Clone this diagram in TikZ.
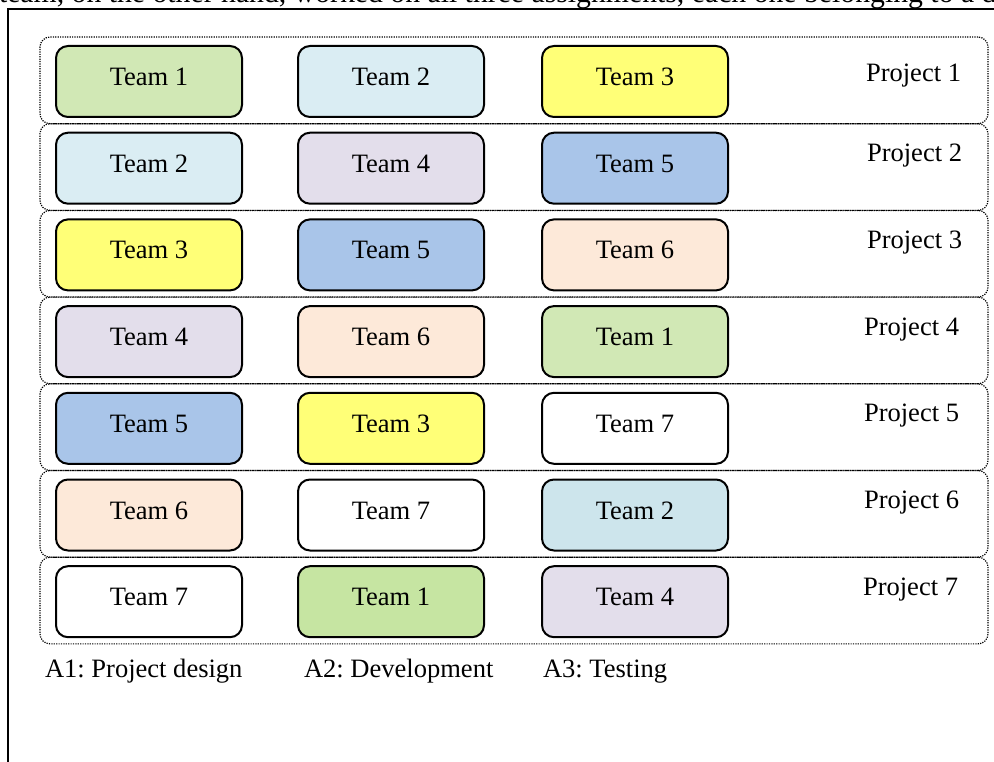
\documentclass[tikz,border=0pt]{standalone}
\usepackage{fontspec}
\setmainfont{Liberation Serif}
\frenchspacing
\definecolor{cgreen}{HTML}{D1E8B5}
\definecolor{cgreentwo}{HTML}{C6E5A2}
\definecolor{clight}{HTML}{DAEDF3}
\definecolor{clighttwo}{HTML}{CDE5EC}
\definecolor{cyellow}{HTML}{FFFF77}
\definecolor{clav}{HTML}{E3DEEB}
\definecolor{cblue}{HTML}{A9C5E9}
\definecolor{cpeach}{HTML}{FDE9D9}
\begin{document}
\frenchspacing
\begin{tikzpicture}[x=0.75pt,y=-0.75pt,
  every node/.style={font=\fontsize{19.9pt}{24pt}\selectfont, inner sep=0pt, outer sep=0pt},
  frameline/.style={draw=black, line width=1.4pt},
  rowbox/.style={draw=black, line width=0.9pt, dash pattern=on 0.9pt off 0.9pt,
    rounded corners=7.5pt, minimum width=711pt, minimum height=65pt},
  teambox/.style={draw=black, line width=1.5pt, rounded corners=9pt,
    minimum width=139.5pt, minimum height=53.25pt},
  teamtxt/.style={anchor=base},
  projtxt/.style={anchor=base west},
  legendtxt/.style={anchor=base west}]
\useasboundingbox (0,0) rectangle (994,762);
% cut-off running text at the top
\begin{scope}
\clip (0,0) rectangle (994,9);
\node[anchor=base west, font=\fontsize{22.3pt}{26pt}\selectfont] (toptext) at (-1,3) {team, on the other hand, worked on all three assignments, each one belonging to a different project};
\end{scope}
% frame
\coordinate (fa) at (994,9);
\coordinate (fb) at (8,9);
\coordinate (fc) at (8,762);
\draw[frameline] (fa) -- (fb) -- (fc);
% project rows
\foreach \r/\px in {1/866,2/867,3/867,4/864,5/864,6/864,7/863}{
  \pgfmathsetmacro\rtop{37+86.7*(\r-1)}
  \pgfmathsetmacro\pby{\r==1 ? \rtop+45 : \rtop+38}
  \node[rowbox] (row\r) at (514,\rtop+43.35) {};
  \node[projtxt] (proj\r) at (\px,\pby) {Project \r};
}
% team boxes
\foreach \r/\c/\col/\t in {
  1/1/cgreen/1, 1/2/clight/2, 1/3/cyellow/3,
  2/1/clight/2, 2/2/clav/4, 2/3/cblue/5,
  3/1/cyellow/3, 3/2/cblue/5, 3/3/cpeach/6,
  4/1/clav/4, 4/2/cpeach/6, 4/3/cgreen/1,
  5/1/cblue/5, 5/2/cyellow/3, 5/3/white/7,
  6/1/cpeach/6, 6/2/white/7, 6/3/clighttwo/2,
  7/1/white/7, 7/2/cgreentwo/1, 7/3/clav/4}{
  \pgfmathsetmacro\rtop{37+86.7*(\r-1)}
  \pgfmathsetmacro\xc{\c==1 ? 149 : (\c==2 ? 391 : 635)}
  \node[teambox, fill=\col] (box\r\c) at (\xc,\rtop+44.5) {};
  \node[teamtxt] (txt\r\c) at (\xc,\rtop+48.5) {Team \t};
}
% legend
\node[legendtxt] (a1) at (45,677) {A1: Project design};
\node[legendtxt] (a2) at (304,677) {A2: Development};
\node[legendtxt] (a3) at (543,677) {A3: Testing};
\end{tikzpicture}
\end{document}
